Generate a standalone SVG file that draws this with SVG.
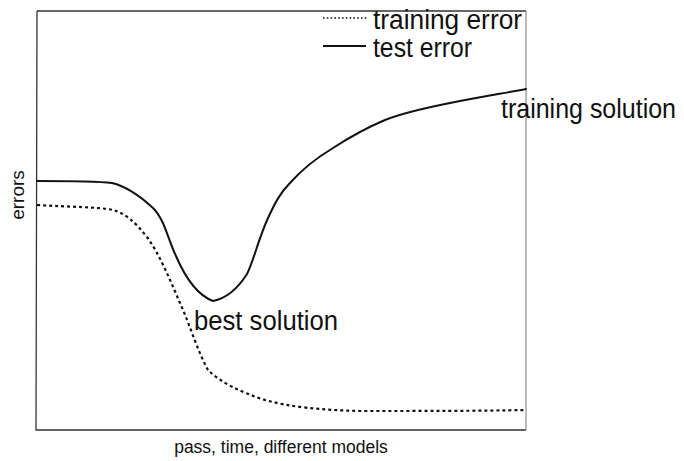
<svg xmlns="http://www.w3.org/2000/svg" width="684" height="461" viewBox="0 0 684 461">
  <style>
    .lbl { font-family: "Liberation Sans", Arial, sans-serif; fill: #111; }
    .big { font-size: 27px; }
    .small { font-size: 17.5px; }
    .frame { fill: none; stroke: #333; stroke-width: 1.3; }
    .test { fill: none; stroke: #111; stroke-width: 2; stroke-linejoin: round; stroke-linecap: round; }
    .train { fill: none; stroke: #111; stroke-width: 2.2; stroke-dasharray: 3 3; }
  </style>
  <rect width="684" height="461" fill="#fff"/>

  <!-- plot frame -->
  <g id="frame">
    <path class="frame" d="M37,11 L526,11"/>
    <path class="frame" d="M37,11 L36,430 L526,430"/>
    <path d="M526,11 L526,430" fill="none" stroke="#777" stroke-width="1"/>
  </g>

  <!-- axis labels -->
  <g id="axis-labels">
    <text class="lbl small" x="281" y="453" text-anchor="middle">pass, time, different models</text>
    <text class="lbl" font-size="19" transform="translate(24,195) rotate(-90)" text-anchor="middle">errors</text>
  </g>

  <!-- legend -->
  <g id="legend">
    <path d="M323,18 L367,18" fill="none" stroke="#111" stroke-width="1.4" stroke-dasharray="1.6 2.2"/>
    <text class="lbl big" x="373" y="29" textLength="149" lengthAdjust="spacingAndGlyphs">training error</text>
    <path d="M323,46 L366,46" fill="none" stroke="#111" stroke-width="2"/>
    <text class="lbl big" x="373" y="57" textLength="99" lengthAdjust="spacingAndGlyphs">test error</text>
  </g>

  <!-- curves -->
  <g id="curves">
    <path id="test-error" class="test" d="M37,181 C60,181 95,181 112,183 C125,186 140,196 153,208 C165,220 168,240 176,256 C185,277 197,295 213,301 C228,298 240,285 247,274 C254,260 258,240 268,218 C275,203 280,193 290,183 C305,166 318,157 333,148 C350,137 366,128 385,120 C400,114 420,109 450,103 C480,97 505,93 526,89"/>
    <path id="training-error" class="train" d="M37,205 C70,207 100,207 113,210 C125,213 135,222 147,237 C160,255 170,280 180,303 C190,325 197,350 208,370 C220,382 240,392 265,400 C290,407 320,410 360,411 C420,411 480,411 525,410"/>
  </g>

  <!-- point labels -->
  <g id="best-solution">
    <text class="lbl big" x="194" y="330" textLength="144" lengthAdjust="spacingAndGlyphs">best solution</text>
  </g>
  <g id="training-solution">
    <text class="lbl big" x="501" y="118" textLength="175" lengthAdjust="spacingAndGlyphs">training solution</text>
  </g>
</svg>
